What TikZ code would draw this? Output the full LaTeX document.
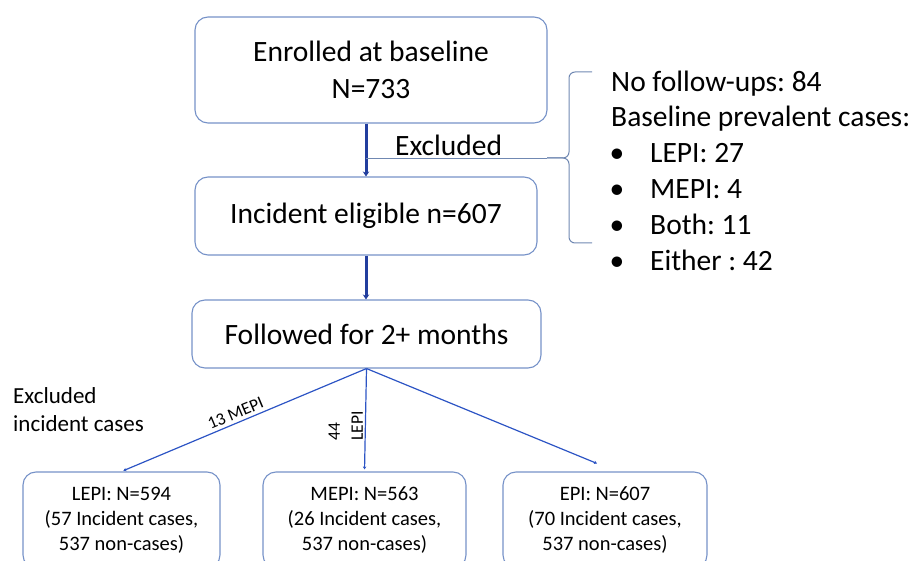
\documentclass[tikz,border=0pt]{standalone}
\usepackage{fontspec}
\setmainfont{Carlito}
\usepackage{tikz}
\usetikzlibrary{positioning,arrows.meta,calc}
\definecolor{boxblue}{RGB}{118,146,200}
\definecolor{arrowblue}{RGB}{34,62,158}
\definecolor{branchblue}{RGB}{44,84,196}
\definecolor{bracegray}{RGB}{112,136,178}
\newcommand{\bigtext}{\fontsize{29.5}{37}\selectfont}
\newcommand{\midtext}{\fontsize{23}{28}\selectfont}
\newcommand{\smalltext}{\fontsize{20.5}{25}\selectfont}
\newcommand{\tinytext}{\fontsize{17.5}{23}\selectfont}
\frenchspacing

\begin{document}
\begin{tikzpicture}[x=1pt, y=-1pt,
    flowbox/.style={draw=boxblue, line width=1.1pt, rectangle, rounded corners=13pt, align=center, inner sep=0pt},
    thickarrow/.style={draw=arrowblue, line width=3pt, -{Stealth[length=5pt, width=6.5pt]}},
    branchline/.style={draw=branchblue, line width=1.2pt, -{Stealth[length=3pt, width=3.5pt]}},
    bracepath/.style={draw=bracegray, line width=1pt, rounded corners=6pt},
    plaintext/.style={anchor=base west, inner sep=0pt}]
            \useasboundingbox (0,0) rectangle (916,561);

            % main column
            \node[flowbox, minimum width=352pt, minimum height=106pt, font=\bigtext](enrolled-box) at (371,70){Enrolled at baseline\\N=733};
            \node[flowbox, minimum width=342pt, minimum height=78pt, font=\bigtext](incident-box) at (366,216){Incident eligible n=607};
            \node[flowbox, minimum width=349pt, minimum height=68pt, font=\bigtext](followed-box) at (366.5,334){Followed for 2+ months};
            \draw[thickarrow](enrolled-box.south -| incident-box.north)--(incident-box.north);
            \draw[thickarrow](incident-box.south)--(incident-box.south |- followed-box.north);

            % excluded at baseline
            \coordinate (brace-tip) at (547,158);
            \coordinate (excluded-start) at (incident-box.north |- brace-tip);
            \draw[draw=bracegray, line width=0.9pt](excluded-start)--(brace-tip);
            \node[plaintext, font=\bigtext](excluded-label) at (395,156){Excluded};
            \draw[bracepath](592,72)--(569,72)--(569,158)--(brace-tip);
            \draw[bracepath](brace-tip)--(569,158)--(569,243)--(592,243);
            \node[plaintext, font=\bigtext](nofollow-text) at (611,92){No follow-ups: 84};
            \node[plaintext, font=\bigtext](prevalent-text) at (611,127){Baseline prevalent cases:};
            \foreach \txt [count=\i] in {LEPI: 27, MEPI: 4, Both: 11, Either : 42}{
                \node[anchor=base, inner sep=0pt, font=\bigtext](bullet-\i) at (617,127+36*\i){\textbullet};
                \node[plaintext, font=\bigtext](prevalent-\i) at (650,127+36*\i){\txt};
            }

            % outcome boxes
            \node[flowbox, minimum width=197pt, minimum height=96pt, font=\smalltext](lepi-box) at (121.5,520){LEPI: N=594\\(57 Incident cases,\\537 non-cases)};
            \node[flowbox, minimum width=203pt, minimum height=96pt, font=\smalltext](mepi-box) at (364.5,520){MEPI: N=563\\(26 Incident cases,\\537 non-cases)};
            \node[flowbox, minimum width=204pt, minimum height=96pt, font=\smalltext](epi-box) at (605,520){EPI: N=607\\(70 Incident cases,\\537 non-cases)};
            \coordinate (epi-end) at ($(epi-box.north)+(-8,-8)$);

            \node[plaintext, font=\midtext](excl-inc-1) at (13,403){Excluded};
            \node[plaintext, font=\midtext](excl-inc-2) at (13,431){incident cases};

            \draw[branchline, shorten >=2pt](followed-box.south)--node[sloped, above, pos=0.52, font=\tinytext, inner sep=3pt](mepi-excl){13 MEPI}(lepi-box.north);
            \draw[branchline, shorten >=2pt](followed-box.south)--node[pos=0.56, rotate=90, anchor=south, align=left, font=\tinytext, inner sep=2pt](lepi-excl){44\\LEPI}(mepi-box.north);
            \draw[branchline](followed-box.south)--(epi-end);
        \end{tikzpicture}
\end{document}
